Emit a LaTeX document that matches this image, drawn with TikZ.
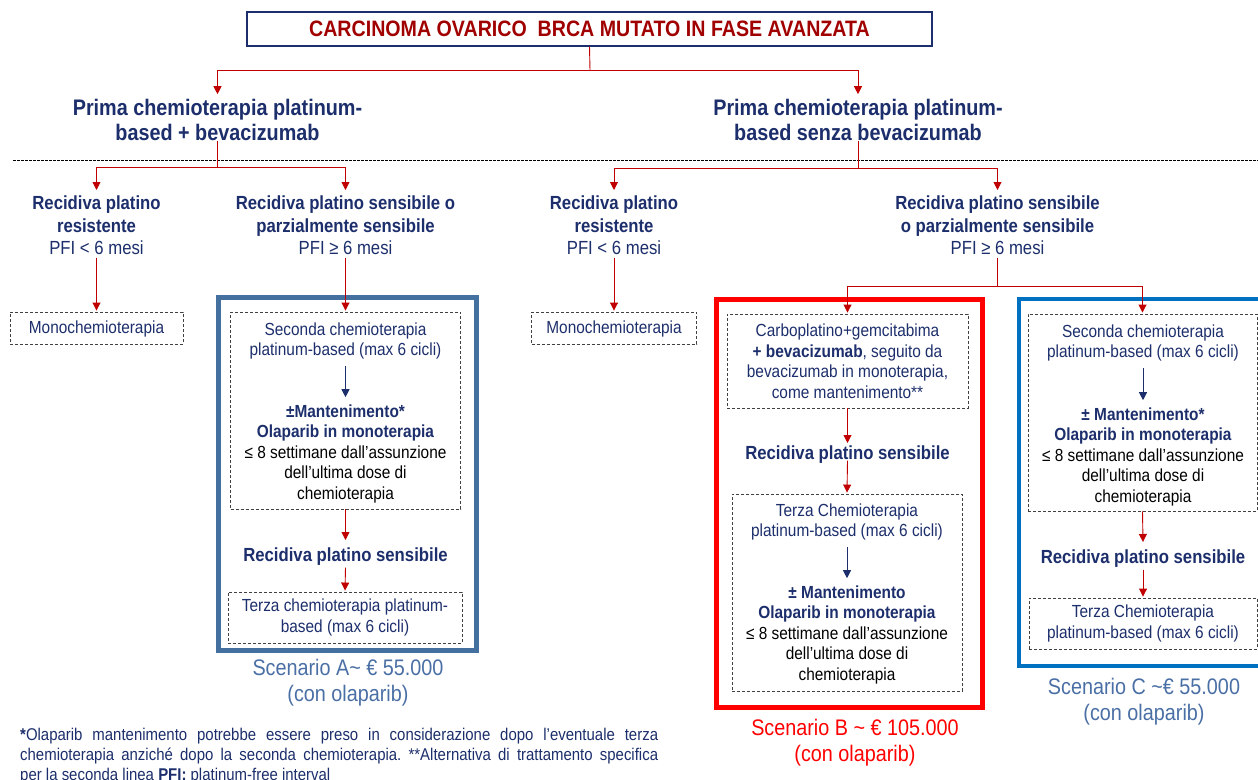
\documentclass[tikz,border=0pt]{standalone}
\usepackage{fontspec}
\setmainfont{Liberation Sans}[FakeStretch=0.88]
\usetikzlibrary{arrows.meta}
\definecolor{cNavy}{HTML}{1C2E6B}
\definecolor{cDRed}{HTML}{A00000}
\definecolor{cRed}{HTML}{C00000}
\definecolor{cSteel}{HTML}{44709F}
\definecolor{cBlue}{HTML}{0070C0}
\definecolor{cScen}{HTML}{4A6FA5}
\definecolor{cGray}{HTML}{404040}
\definecolor{cBRed}{HTML}{FF0000}
\tikzset{
  rl/.style={draw=cRed, line width=0.9pt},
  ra/.style={rl, -{Triangle[width=8pt,length=8pt]}},
  na/.style={draw=cNavy, line width=0.8pt, -{Triangle[width=8pt,length=8pt]}},
  txt/.style={inner sep=0pt, align=center, text=cNavy},
  hdr/.style={txt, font=\bfseries\fontsize{22.5}{25}\selectfont},
  rec/.style={txt, font=\fontsize{19}{22.5}\selectfont},
  rbold/.style={txt, font=\bfseries\fontsize{19}{22}\selectfont},
  body/.style={txt, font=\fontsize{17.5}{20.5}\selectfont},
  dbox/.style={draw=cGray, dash pattern=on 3pt off 2pt, line width=0.9pt, inner sep=0pt,
    align=center, text=cNavy, font=\fontsize{17.5}{20.5}\selectfont},
  scen/.style={inner sep=0pt, align=center, font=\fontsize{22.5}{25.5}\selectfont}
}
\begin{document}
\frenchspacing
\begin{tikzpicture}[x=1pt,y=-1pt]
\useasboundingbox (0,0) rectangle (1258,779);

% title
\node[draw=cNavy, line width=1.3pt, minimum width=685pt, minimum height=34pt, inner sep=0pt,
  text=cDRed, font=\bfseries\fontsize{22.3}{25}\selectfont] (title) at (589.5,29)
  {CARCINOMA OVARICO\ \ BRCA MUTATO IN FASE AVANZATA};

% headers
\node[hdr, anchor=north] (h1) at (217.5,99.2) {Prima chemioterapia platinum-\\based + bevacizumab};
\node[hdr, anchor=north] (h2) at (858,99.2) {Prima chemioterapia platinum-\\based senza bevacizumab};

\coordinate (j0) at (590,70.5);
\draw[rl] (title.south) -- (j0);
\draw[ra] (j0) -| ([yshift=5pt]h1.north);
\draw[ra] (j0) -| ([yshift=5pt]h2.north);

% separator
\coordinate (s0) at (13,160.5);
\coordinate (s1) at (1258,160.5);
\draw[black, line width=0.7pt, dash pattern=on 2.5pt off 1.5pt] (s0) -- (s1);

% recidiva nodes
\node[rec, anchor=north] (r1) at (96.5,195.6) {\textbf{Recidiva platino}\\\textbf{resistente}\\PFI < 6 mesi};
\node[rec, anchor=north] (r2) at (345.5,195.6) {\textbf{Recidiva platino sensibile o}\\\textbf{parzialmente sensibile}\\PFI ≥ 6 mesi};
\node[rec, anchor=north] (r3) at (614,195.6) {\textbf{Recidiva platino}\\\textbf{resistente}\\PFI < 6 mesi};
\node[rec, anchor=north] (r4) at (997.5,195.6) {\textbf{Recidiva platino sensibile}\\\textbf{o parzialmente sensibile}\\PFI ≥ 6 mesi};

\coordinate (j1) at (217.5,167);
\draw[rl] (h1.south) -- (j1);
\draw[ra] (j1) -| ([yshift=5.6pt]r1.north);
\draw[ra] (j1) -| ([yshift=5.6pt]r2.north);
\coordinate (j2) at (858,168);
\draw[rl] (h2.south) -- (j2);
\draw[ra] (j2) -| ([yshift=5.6pt]r3.north);
\draw[ra] (j2) -| ([yshift=5.6pt]r4.north);

% monochemio boxes
\node[dbox, minimum width=173pt, minimum height=32pt, text depth=2pt] (m1) at (96.5,328) {Monochemioterapia};
\node[dbox, minimum width=165pt, minimum height=32pt, text depth=2pt] (m2) at (614,328) {Monochemioterapia};
\draw[ra] ([yshift=-3pt]r1.south) -- ([yshift=1pt]m1.north);
\draw[ra] ([yshift=-3pt]r3.south) -- ([yshift=1pt]m2.north);

% ---------- Scenario A ----------
\draw[cSteel, line width=4.5pt] (218.5,297.5) rectangle (476.5,650.5);
\node[dbox, minimum width=230pt, minimum height=197pt] (A1) at (345.5,410.5) {};
\node[body, anchor=north] (A1a) at (345.5,322.2) {Seconda chemioterapia\\platinum-based (max 6 cicli)};
\node[body, anchor=north] (A1b) at (345.5,404.2) {\textbf{±Mantenimento*}\\\textbf{Olaparib in monoterapia}\\\textcolor{black}{≤ 8 settimane dall’assunzione}\\\textcolor{black}{dell’ultima dose di}\\\textcolor{black}{chemioterapia}};
\draw[na] ([yshift=-7pt]A1a.south) -- ([yshift=7pt]A1b.north);
\draw[ra] ([yshift=-3pt]r2.south) -- ([yshift=1pt]A1.north);
\node[rbold, anchor=north] (Ar) at (345.5,547.6) {Recidiva platino sensibile};
\draw[ra] (A1.south) -- ([yshift=7.6pt]Ar.north);
\node[dbox, minimum width=234pt, minimum height=51pt] (A2) at (345,617.5) {Terza chemioterapia platinum-\\based (max 6 cicli)};
\draw[ra] ([yshift=-2pt]Ar.south) -- ([yshift=1pt]A2.north);
\node[scen, text=cScen, anchor=north] (As) at (348,659.2) {Scenario A\textasciitilde{} € 55.000\\(con olaparib)};

% ---------- Scenario B ----------
\draw[cBRed, line width=5pt] (716.5,299.5) rectangle (982.5,707.5);
\node[dbox, minimum width=241pt, minimum height=94pt] (B1) at (847.5,361)
  {Carboplatino+gemcitabima\\\textbf{+ bevacizumab}, seguito da\\bevacizumab in monoterapia,\\come mantenimento**};
\node[rbold, anchor=north] (Br) at (847.5,445.6) {Recidiva platino sensibile};
\draw[ra] (B1.south) -- ([yshift=2.6pt]Br.north);
\node[dbox, minimum width=230pt, minimum height=197pt] (B2) at (847,592.5) {};
\draw[ra] ([yshift=3pt]Br.south) -- ([yshift=1pt]B2.north);
\node[body, anchor=north] (B2a) at (847,503.2) {Terza Chemioterapia\\platinum-based (max 6 cicli)};
\node[body, anchor=north] (B2b) at (847,585.2) {\textbf{± Mantenimento}\\\textbf{Olaparib in monoterapia}\\\textcolor{black}{≤ 8 settimane dall’assunzione}\\\textcolor{black}{dell’ultima dose di}\\\textcolor{black}{chemioterapia}};
\draw[na] ([yshift=-7pt]B2a.south) -- ([yshift=7pt]B2b.north);
\node[scen, text=cBRed, anchor=north] (Bs) at (855,719.2) {Scenario B \textasciitilde{} € 105.000\\(con olaparib)};

% ---------- Scenario C ----------
\draw[cBlue, line width=4.5pt] (1019,299) rectangle (1290,666);
\node[dbox, minimum width=229pt, minimum height=197pt] (C1) at (1142.5,412.5) {};
\node[body, anchor=north] (C1a) at (1143,324.2) {Seconda chemioterapia\\platinum-based (max 6 cicli)};
\node[body, anchor=north] (C1b) at (1143,407.2) {\textbf{± Mantenimento*}\\\textbf{Olaparib in monoterapia}\\\textcolor{black}{≤ 8 settimane dall’assunzione}\\\textcolor{black}{dell’ultima dose di}\\\textcolor{black}{chemioterapia}};
\draw[na] ([yshift=-7pt]C1a.south) -- ([yshift=7pt]C1b.north);
\node[rbold, anchor=north] (Cr) at (1143,549.6) {Recidiva platino sensibile};
\draw[ra] (C1.south) -- ([yshift=7.6pt]Cr.north);
\node[dbox, minimum width=228pt, minimum height=51pt] (C2) at (1143,623.5) {Terza Chemioterapia\\platinum-based (max 6 cicli)};
\draw[ra] ([yshift=-2pt]Cr.south) -- ([yshift=1pt]C2.north);
\node[scen, text=cScen, anchor=north] (Cs) at (1144,678.2) {Scenario C \textasciitilde€ 55.000\\(con olaparib)};

% branch to B and C
\coordinate (j3) at (997.5,286);
\draw[rl] ([yshift=-3pt]r4.south) -- (j3);
\draw[ra] (j3) -| ([yshift=1pt]B1.north);
\draw[ra] (j3) -| ([yshift=1pt]C1.north);

% footnote
\node[anchor=north west, inner sep=0pt, text width=638pt, align=justify, text=cNavy,
  font=\fontsize{17}{20}\selectfont] (fn) at (20,728.4)
  {\textbf{*}Olaparib mantenimento potrebbe essere preso in considerazione dopo l’eventuale terza\linebreak
   chemioterapia anziché dopo la seconda chemioterapia. **Alternativa di trattamento specifica\linebreak
   per la seconda linea \textbf{PFI:} platinum-free interval};
\end{tikzpicture}
\end{document}
